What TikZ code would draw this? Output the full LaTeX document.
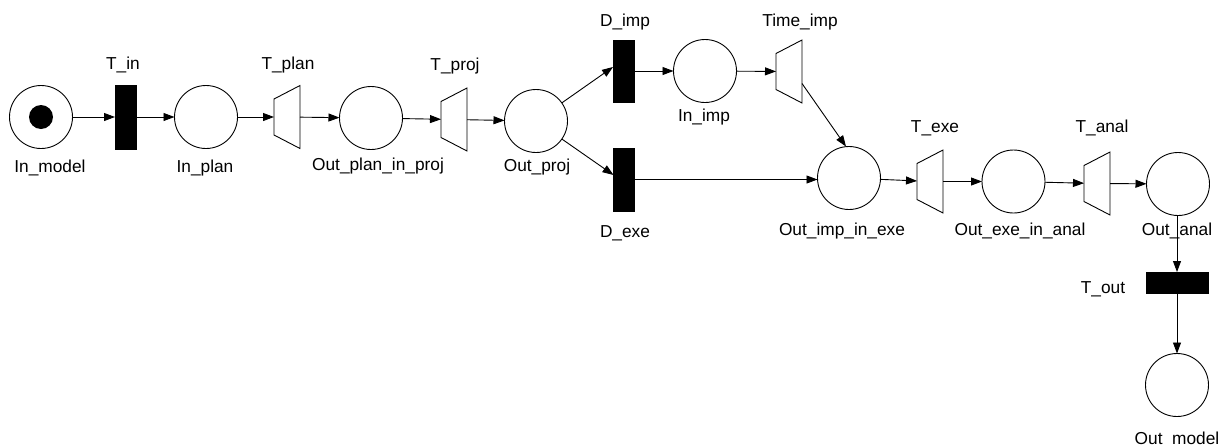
\documentclass[tikz,border=0pt]{standalone}
\usepackage{fontspec}
\setmainfont{Liberation Sans}
\usetikzlibrary{arrows.meta}
\tikzset{
  place/.style={circle, draw, line width=0.9pt, minimum size=63pt, inner sep=0pt, outer sep=0pt},
  tok/.style={circle, fill=black, minimum size=24pt, inner sep=0pt},
  bar/.style={rectangle, fill=black, draw=black, inner sep=0pt, outer sep=0pt},
  trans/.style={rectangle, minimum width=26pt, minimum height=63pt, inner sep=0pt, outer sep=0pt},
  lbl/.style={anchor=base, inner sep=0pt, font=\fontsize{17.3}{20}\selectfont},
  arc/.style={line width=0.9pt, -{Triangle[length=11pt,width=8pt]}}
}
\newcommand\trapdraw[1]{\draw[line width=0.9pt] (#1.north east) -- (#1.south east) -- ([yshift=13.5pt]#1.south west) -- ([yshift=-13.5pt]#1.north west) -- cycle;}
\begin{document}
\begin{tikzpicture}[x=1pt,y=-1pt]
\useasboundingbox[fill=white] (0,0) rectangle (1219,445);
% places
\node[place] (In_model) at (41,117) {};
\node[tok] (token) at (41,117) {};
\node[place] (In_plan) at (206,117) {};
\node[place] (Out_plan_in_proj) at (371,118) {};
\node[place] (Out_proj) at (536,121) {};
\node[place] (In_imp) at (705,71) {};
\node[place] (Out_imp_in_exe) at (849,178) {};
\node[place] (Out_exe_in_anal) at (1013.5,181.5) {};
\node[place] (Out_anal) at (1178,184) {};
\node[place] (Out_model) at (1177,385) {};
% transitions
\node[bar, minimum width=21pt, minimum height=64pt] (T_in) at (125.5,117) {};
\node[bar, minimum width=21pt, minimum height=62pt] (D_imp) at (623.5,71) {};
\node[bar, minimum width=21pt, minimum height=63pt] (D_exe) at (624,179.5) {};
\node[bar, minimum width=62pt, minimum height=21pt] (T_out) at (1177,282.5) {};
\node[trans] (T_plan) at (287,117) {}; \trapdraw{T_plan}
\node[trans] (T_proj) at (454,119.5) {}; \trapdraw{T_proj}
\node[trans] (Time_imp) at (789,71.5) {}; \trapdraw{Time_imp}
\node[trans] (T_exe) at (930,181.5) {}; \trapdraw{T_exe}
\node[trans] (T_anal) at (1097,183.5) {}; \trapdraw{T_anal}
% labels
\node[lbl] (l_In_model) at (50,172) {In\_model};
\node[lbl] (l_In_plan) at (205,172) {In\_plan};
\node[lbl] (l_Out_plan_in_proj) at (378,170) {Out\_plan\_in\_proj};
\node[lbl] (l_Out_proj) at (537,171) {Out\_proj};
\node[lbl] (l_T_in) at (123,69.5) {T\_in};
\node[lbl] (l_T_plan) at (288,69.5) {T\_plan};
\node[lbl] (l_T_proj) at (455,70.5) {T\_proj};
\node[lbl] (l_D_imp) at (625,26) {D\_imp};
\node[lbl] (l_Time_imp) at (800,26) {Time\_imp};
\node[lbl] (l_In_imp) at (704,121) {In\_imp};
\node[lbl] (l_D_exe) at (625,237) {D\_exe};
\node[lbl] (l_Out_imp_in_exe) at (842,235) {Out\_imp\_in\_exe};
\node[lbl] (l_T_exe) at (935,132) {T\_exe};
\node[lbl] (l_T_anal) at (1102,132) {T\_anal};
\node[lbl] (l_Out_exe_in_anal) at (1020,235) {Out\_exe\_in\_anal};
\node[lbl] (l_Out_anal) at (1177,235) {Out\_anal};
\node[lbl] (l_T_out) at (1103,293) {T\_out};
\node[lbl] (l_Out_model) at (1177,444) {Out\_model};
% arcs
\draw[arc] (In_model) -- (T_in);
\draw[arc] (T_in) -- (In_plan);
\draw[arc] (In_plan) -- (T_plan);
\draw[arc] (T_plan) -- (Out_plan_in_proj);
\draw[arc] (Out_plan_in_proj) -- (T_proj);
\draw[arc] (T_proj) -- (Out_proj);
\draw[arc] (Out_proj) -- ([yshift=4pt]D_imp.west);
\draw[arc] (Out_proj) -- ([yshift=4.5pt]D_exe.west);
\draw[arc] (D_imp) -- (In_imp);
\draw[arc] (In_imp) -- (Time_imp);
\draw[arc] ([yshift=-12pt]Time_imp.east) -- ([xshift=-3pt]Out_imp_in_exe.north);
\draw[arc] (D_exe.east) -- (D_exe.east -| Out_imp_in_exe.west);
\draw[arc] (Out_imp_in_exe) -- (T_exe);
\draw[arc] (T_exe) -- (Out_exe_in_anal);
\draw[arc] (Out_exe_in_anal) -- (T_anal);
\draw[arc] (T_anal) -- (Out_anal);
\draw[arc] (Out_anal.south -| T_out.north) -- (T_out.north);
\draw[arc] (T_out) -- (Out_model);
\end{tikzpicture}
\end{document}
